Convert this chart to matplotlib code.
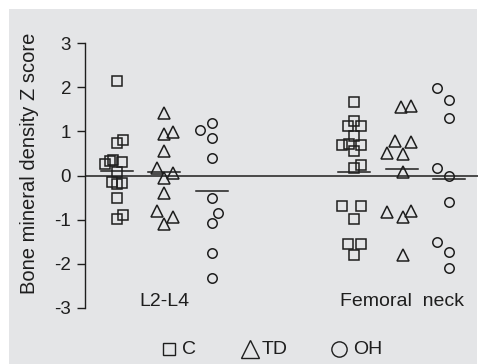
import matplotlib
matplotlib.use("Agg")
import matplotlib.pyplot as plt
from matplotlib.lines import Line2D
from matplotlib.patches import Rectangle

plt.rcParams['font.family'] = ['Liberation Sans', 'DejaVu Sans']

# ---- data ----
sites = ["L2-L4", "Femoral  neck"]
groups = ["C", "TD", "OH"]

l2l4_C = [2.15, 0.80, 0.73, 0.36, 0.32, 0.25, 0.30, 0.09, -0.14, -0.16, -0.20, -0.52, -0.89, -0.98]
l2l4_TD = [1.41, 0.98, 0.93, 0.55, 0.18, 0.05, -0.05, -0.39, -0.80, -0.93, -1.09]
l2l4_OH = [1.18, 1.02, 0.84, 0.39, -0.52, -0.86, -1.07, -1.75, -2.32]

fem_C = [1.66, 1.23, 1.13, 1.11, 0.90, 0.72, 0.68, 0.68, 0.56, 0.23, 0.16, -0.68, -0.70, -0.98, -1.55, -1.55, -1.81]
fem_TD = [1.57, 1.55, 0.77, 0.75, 0.52, 0.48, 0.09, -0.80, -0.82, -0.93, -1.81]
fem_OH = [1.98, 1.70, 1.30, 0.18, 0.00, -0.59, -1.50, -1.73, -2.09]

means_l2l4 = [0.11, 0.09, -0.34]
means_fem = [0.09, 0.14, -0.07]

yticks = [-3, -2, -1, 0, 1, 2, 3]
ylabel = "Bone mineral density Z score"

# ---- layout (jitter offsets in pixels, converted to data units) ----
PX = 47.5
jit = {
    "l2l4_C": [0, 6, 0, -4, -7, -12, 5, 0, -5, 5, 0, 0, 6, 0],
    "l2l4_TD": [0, 9, 0, 0, -7, 9, 0, 0, -7, 9, 0],
    "l2l4_OH": [0, -12, 0, 0, 0, 6, 0, 0, 0],
    "fem_C": [0, 0, -7, 6, 0, -5, -12, 6, 0, 6, 0, 6, -12, 0, -7, 6, 0],
    "fem_TD": [9, -1, -7, 9, -15, 1, 1, 9, -15, 1, 1],
    "fem_OH": [-12, 0, 0, -12, 0, 0, -12, 0, 0],
}

W, H = 485, 364
fig = plt.figure(figsize=(W / 100, H / 100), dpi=100)
fig.patch.set_facecolor('white')
bg = Rectangle((9 / W, 0), (477 - 9) / W, (H - 9) / H,
               transform=fig.transFigure, facecolor='#e4e5e7',
               edgecolor='none', zorder=-10)
fig.add_artist(bg)

left, right = 85, 478
top, bottom = 43, 308
ax = fig.add_axes([left / W, 1 - bottom / H, (right - left) / W, (bottom - top) / H])
ax.set_facecolor('none')
ax.set_zorder(1)
x0 = 69.5
ax.set_xlim((left - x0) / PX, (right - x0) / PX)
ax.set_ylim(-3, 3)

ink = '#1e1e1e'
FS = 13.5
markers = {"C": 's', "TD": '^', "OH": 'o'}
msize = {"C": 7, "TD": 8.5, "OH": 6.8}

series = [
    (1, "C", l2l4_C, "l2l4_C"), (2, "TD", l2l4_TD, "l2l4_TD"), (3, "OH", l2l4_OH, "l2l4_OH"),
    (6, "C", fem_C, "fem_C"), (7, "TD", fem_TD, "fem_TD"), (8, "OH", fem_OH, "fem_OH"),
]
for xc, g, vals, key in series:
    xs = [xc + j / PX for j in jit[key]]
    ax.plot(xs, vals, linestyle='none', marker=markers[g], markersize=msize[g],
            markerfacecolor='none', markeredgecolor=ink, markeredgewidth=1.1, zorder=3,
            clip_on=False)

half = 16 / PX
for xc, m in zip([1, 2, 3], means_l2l4):
    ax.plot([xc - half, xc + half], [m, m], color=ink, lw=1.1, zorder=2)
for xc, m in zip([6, 7, 8], means_fem):
    ax.plot([xc - half, xc + half], [m, m], color=ink, lw=1.1, zorder=2)

ax.axhline(0, color=ink, lw=1.1, zorder=1)

for s in ['top', 'right', 'bottom']:
    ax.spines[s].set_visible(False)
ax.spines['left'].set_color(ink)
ax.spines['left'].set_linewidth(1.0)
ax.set_xticks([])
ax.set_yticks(yticks)
ax.set_yticklabels([str(t) for t in yticks])
ax.tick_params(axis='y', length=6, width=1.0, color=ink, labelcolor=ink,
               labelsize=FS, pad=4)
ax.set_ylabel(ylabel, fontsize=14.5, color=ink)
ax.yaxis.set_label_coords((39 - left) / (right - left), (bottom - 163) / (bottom - top))

ax.text(2, -2.86, sites[0], ha='center', va='center', fontsize=14, color=ink)
ax.text(7, -2.86, sites[1], ha='center', va='center', fontsize=14, color=ink)

# legend, laid out manually (pixel positions of each entry)
ly = 1 - 349 / H
leg_items = [("C", 169, 182), ("TD", 250, 262), ("OH", 339.5, 353)]
lsize = {"C": 9, "TD": 13.5, "OH": 11}
for g, mx, tx in leg_items:
    fig.add_artist(Line2D([mx / W], [ly], transform=fig.transFigure, linestyle='none',
                          marker=markers[g], markersize=lsize[g], markerfacecolor='none',
                          markeredgecolor=ink, markeredgewidth=1.0))
    fig.text(tx / W, ly, g, ha='left', va='center', fontsize=14, color=ink)

fig.savefig('out.png', dpi=100)
